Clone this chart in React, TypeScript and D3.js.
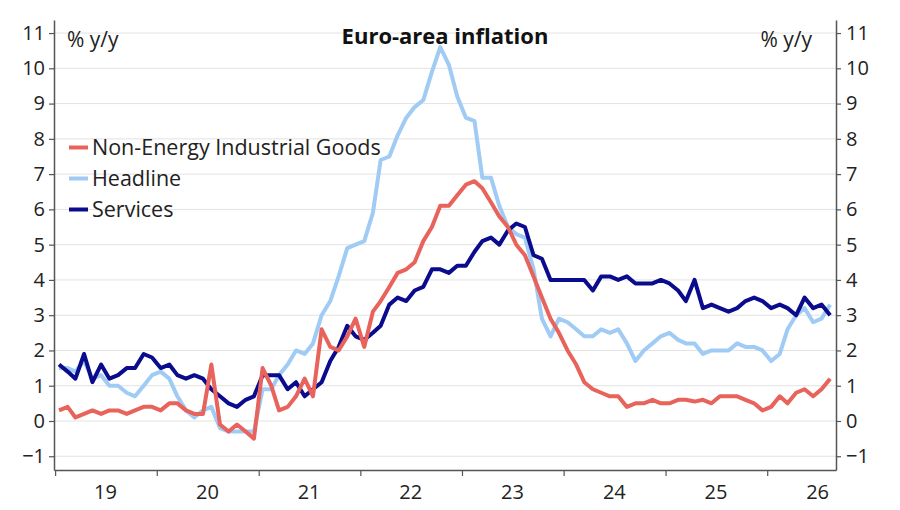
import React, { useEffect, useRef } from 'react';
import * as d3 from 'd3';

// monthly readings, first point = Jan 2019
const firstYear = 2019;

const headline = [
  1.5, 1.5, 1.4, 1.7, 1.2, 1.3, 1.0, 1.0, 0.8, 0.7, 1.0, 1.3,
  1.4, 1.2, 0.7, 0.3, 0.1, 0.3, 0.4, -0.2, -0.3, -0.3, -0.3, -0.3,
  0.9, 0.9, 1.3, 1.6, 2.0, 1.9, 2.2, 3.0, 3.4, 4.1, 4.9, 5.0,
  5.1, 5.9, 7.4, 7.5, 8.1, 8.6, 8.9, 9.1, 9.9, 10.6, 10.1, 9.2,
  8.6, 8.5, 6.9, 6.9, 6.1, 5.5, 5.3, 5.2, 4.3, 2.9, 2.4, 2.9,
  2.8, 2.6, 2.4, 2.4, 2.6, 2.5, 2.6, 2.2, 1.7, 2.0, 2.2, 2.4,
  2.5, 2.3, 2.2, 2.2, 1.9, 2.0, 2.0, 2.0, 2.2, 2.1, 2.1, 2.0,
  1.7, 1.9, 2.6, 3.0, 3.2, 2.8, 2.9, 3.3,
];

const services = [
  1.6, 1.4, 1.2, 1.9, 1.1, 1.6, 1.2, 1.3, 1.5, 1.5, 1.9, 1.8,
  1.5, 1.6, 1.3, 1.2, 1.3, 1.2, 0.9, 0.7, 0.5, 0.4, 0.6, 0.7,
  1.3, 1.3, 1.3, 0.9, 1.1, 0.7, 0.9, 1.1, 1.7, 2.1, 2.7, 2.4,
  2.3, 2.5, 2.7, 3.3, 3.5, 3.4, 3.7, 3.8, 4.3, 4.3, 4.2, 4.4,
  4.4, 4.8, 5.1, 5.2, 5.0, 5.4, 5.6, 5.5, 4.7, 4.6, 4.0, 4.0,
  4.0, 4.0, 4.0, 3.7, 4.1, 4.1, 4.0, 4.1, 3.9, 3.9, 3.9, 4.0,
  3.9, 3.7, 3.4, 4.0, 3.2, 3.3, 3.2, 3.1, 3.2, 3.4, 3.5, 3.4,
  3.2, 3.3, 3.2, 3.0, 3.5, 3.2, 3.3, 3.0,
];

const neig = [
  0.3, 0.4, 0.1, 0.2, 0.3, 0.2, 0.3, 0.3, 0.2, 0.3, 0.4, 0.4,
  0.3, 0.5, 0.5, 0.3, 0.2, 0.2, 1.6, -0.1, -0.3, -0.1, -0.3, -0.5,
  1.5, 1.0, 0.3, 0.4, 0.7, 1.2, 0.7, 2.6, 2.1, 2.0, 2.4, 2.9,
  2.1, 3.1, 3.4, 3.8, 4.2, 4.3, 4.5, 5.1, 5.5, 6.1, 6.1, 6.4,
  6.7, 6.8, 6.6, 6.2, 5.8, 5.5, 5.0, 4.7, 4.1, 3.5, 2.9, 2.5,
  2.0, 1.6, 1.1, 0.9, 0.8, 0.7, 0.7, 0.4, 0.5, 0.5, 0.6, 0.5,
  0.5, 0.6, 0.6, 0.55, 0.6, 0.5, 0.7, 0.7, 0.7, 0.6, 0.5, 0.3,
  0.4, 0.7, 0.5, 0.8, 0.9, 0.7, 0.9, 1.2,
];

const yTicks = [-1, 0, 1, 2, 3, 4, 5, 6, 7, 8, 9, 10, 11];
const yearLabels = ['19', '20', '21', '22', '23', '24', '25', '26'];

const legend = [
  { name: 'Non-Energy Industrial Goods', values: neig, color: '#E8635B' },
  { name: 'Headline', values: headline, color: '#A0CBF5' },
  { name: 'Services', values: services, color: '#0B0B8E' },
];

const App = () => {
  const svgRef = useRef(null);

  useEffect(() => {
    const width = 900;
    const height = 510;
    const svg = d3.select(svgRef.current);
    svg.selectAll('*').remove();
    svg.attr('width', width).attr('height', height);

    const font = "'Open Sans', sans-serif";
    const left = 54;
    const right = 836;
    const top = 20;
    const bottom = 470;

    const x = d3.scaleTime()
      .domain([new Date(2018, 11, 28), new Date(2026, 8, 5)])
      .range([left, right]);
    const y = d3.scaleLinear()
      .domain([-1.39, 11.37])
      .range([bottom, top]);

    const dateAt = (i) => new Date(firstYear, i, 15);

    // gridlines
    svg.append('g')
      .selectAll('line')
      .data(yTicks)
      .join('line')
      .attr('x1', left)
      .attr('x2', right)
      .attr('y1', d => y(d))
      .attr('y2', d => y(d))
      .attr('stroke', '#e2e2e2')
      .attr('stroke-width', 1);

    const styleAxis = (g) => {
      g.select('.domain').attr('stroke', '#555').attr('stroke-width', 1.5);
      g.selectAll('.tick line').attr('stroke', '#555').attr('stroke-width', 1.2);
      g.selectAll('.tick text')
        .attr('fill', '#222')
        .style('font-family', font)
        .style('font-size', '20px');
    };

    svg.append('g')
      .attr('transform', `translate(${left},0)`)
      .call(d3.axisLeft(y).tickValues(yTicks).tickSize(5).tickPadding(4).tickSizeOuter(0))
      .call(styleAxis);

    svg.append('g')
      .attr('transform', `translate(${right},0)`)
      .call(d3.axisRight(y).tickValues(yTicks).tickSize(5).tickPadding(5).tickSizeOuter(0))
      .call(styleAxis);

    const yearStarts = yearLabels.map((_, k) => new Date(firstYear + k, 0, 1));
    svg.append('g')
      .attr('transform', `translate(0,${bottom})`)
      .call(d3.axisBottom(x).tickValues(yearStarts).tickFormat(() => '').tickSize(6).tickSizeOuter(0))
      .call(styleAxis);

    svg.append('g')
      .selectAll('text')
      .data(yearLabels)
      .join('text')
      .attr('x', (_, k) => x(new Date(firstYear + k, 6, 1)))
      .attr('y', 499)
      .attr('text-anchor', 'middle')
      .attr('fill', '#222')
      .style('font-family', font)
      .style('font-size', '20px')
      .text(d => d);

    // series lines
    const line = d3.line()
      .x((_, i) => x(dateAt(i)))
      .y(d => y(d));

    const drawOrder = [legend[1], legend[2], legend[0]];
    svg.append('g')
      .selectAll('path')
      .data(drawOrder)
      .join('path')
      .attr('d', d => line(d.values))
      .attr('fill', 'none')
      .attr('stroke', d => d.color)
      .attr('stroke-width', 4)
      .attr('stroke-linejoin', 'round');

    // legend
    const lg = svg.append('g');
    legend.forEach((s, k) => {
      const cy = 147.5 + k * 31;
      lg.append('line')
        .attr('x1', 69)
        .attr('x2', 88)
        .attr('y1', cy)
        .attr('y2', cy)
        .attr('stroke', s.color)
        .attr('stroke-width', 4);
      lg.append('text')
        .attr('x', 92)
        .attr('y', cy + 7.5)
        .attr('fill', '#222')
        .style('font-family', font)
        .style('font-size', '21.5px')
        .text(s.name);
    });

    // titles
    svg.append('text')
      .attr('x', 445)
      .attr('y', 44)
      .attr('text-anchor', 'middle')
      .attr('fill', '#111')
      .style('font-family', font)
      .style('font-size', '22px')
      .style('font-weight', 'bold')
      .text('Euro-area inflation');

    svg.append('text')
      .attr('x', 67)
      .attr('y', 47)
      .attr('fill', '#222')
      .style('font-family', font)
      .style('font-size', '21px')
      .text('% y/y');

    svg.append('text')
      .attr('x', 812)
      .attr('y', 47)
      .attr('text-anchor', 'end')
      .attr('fill', '#222')
      .style('font-family', font)
      .style('font-size', '21px')
      .text('% y/y');
  }, []);

  return (
    <div style={{ position: 'absolute', left: 0, top: 0, background: '#fff' }}>
      <svg ref={svgRef} style={{ display: 'block' }}></svg>
    </div>
  );
};

export default App;
